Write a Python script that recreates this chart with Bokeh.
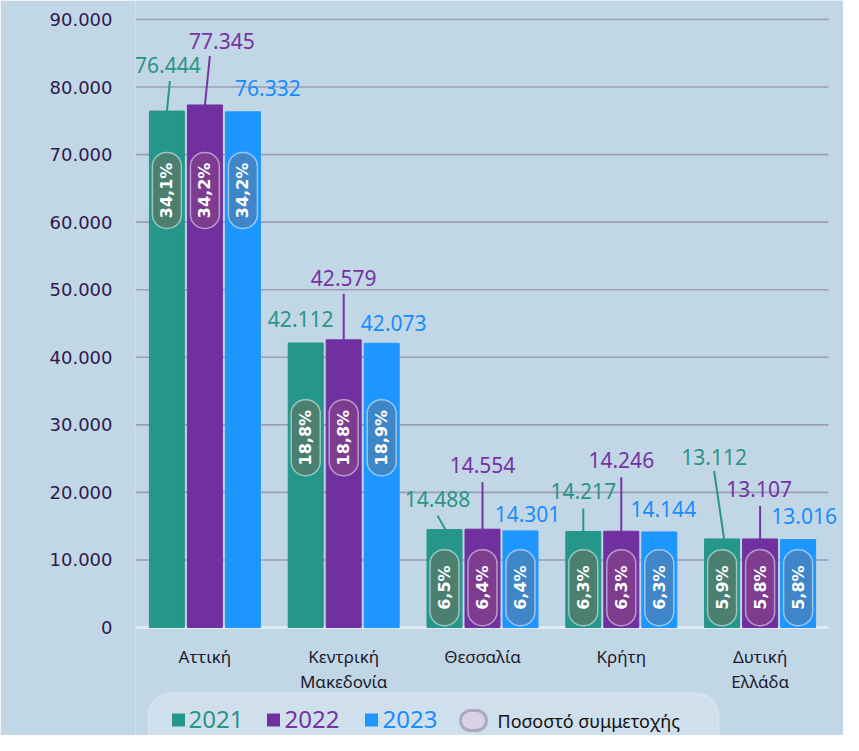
import math
from bokeh.plotting import figure
from bokeh.models import Range1d, FixedTicker, Label, BoxAnnotation
from bokeh.core.properties import value
from bokeh.embed import file_html
from bokeh.resources import INLINE

# ---------------- data ----------------
regions = ["Αττική", "Κεντρική\nΜακεδονία", "Θεσσαλία", "Κρήτη", "Δυτική\nΕλλάδα"]
years = ["2021", "2022", "2023"]
values_2021 = [76444, 42112, 14488, 14217, 13112]
values_2022 = [77345, 42579, 14554, 14246, 13107]
values_2023 = [76332, 42073, 14301, 14144, 13016]
share_2021 = ["34,1%", "18,8%", "6,5%", "6,3%", "5,9%"]
share_2022 = ["34,2%", "18,8%", "6,4%", "6,3%", "5,8%"]
share_2023 = ["34,2%", "18,9%", "6,4%", "6,3%", "5,8%"]
y_ticks = [0, 10000, 20000, 30000, 40000, 50000, 60000, 70000, 80000, 90000]
y_tick_labels = ["0", "10.000", "20.000", "30.000", "40.000", "50.000",
                 "60.000", "70.000", "80.000", "90.000"]
legend_extra = "Ποσοστό συμμετοχής"

series_values = {"2021": values_2021, "2022": values_2022, "2023": values_2023}
series_share = {"2021": share_2021, "2022": share_2022, "2023": share_2023}

# ---------------- layout / style ----------------
FONT = "Noto Sans"
NUM_FONT = "Noto Sans"
W, H = 843, 735
BL, BR = 135, 0
FW = W - BL - BR
PX_PER_10K = 67.556
U_PX = 10000.0 / PX_PER_10K            # data units per px
ZERO_Y = 627                            # px from top where 0 lies
Y_START = -(H - ZERO_Y) * U_PX
Y_END = ZERO_Y * U_PX
PX_CAT = 138.8                          # px per category
X_START = -0.5
X_END = X_START + FW / PX_CAT
GRID_RIGHT_PX = 828                     # gridlines end (px from left)
BG = "#c2d7e6"

bar_color = {"2021": "#24968a", "2022": "#7030a0", "2023": "#1e96ff"}
txt_color = {"2021": "#2a9585", "2022": "#7533a3", "2023": "#1a8cff"}
pill_color = {"2021": "#4b8071", "2022": "#7d3c8e", "2023": "#3f86c8"}
bar_off_px = {"2021": -38, "2022": 0, "2023": 38}
BAR_W_PX = 35
label_dx = {"2021": [1, -5, -7, 0, -8], "2022": [17, 0, 0, 0, -1], "2023": [25, 12, 7, 4, 6]}
label_dy = {"2021": [46, 24, 31, 40, 82], "2022": [64, 62, 64, 71, 50], "2023": [24, 20, 17, 23, 24]}
leaders = {
    "2021": [(0, 3, 30), None, (1, -7, 14), (0, 0, 23), (2, -8, 68)],
    "2022": [(0, 5, 49), (0, 0, 46), (0, 0, 47), (0, 0, 54), (0, 0, 33)],
    "2023": [None, None, None, None, None],
}
pill_center = [64700, 28100, 5900, 5900, 5900]
CAT_LABEL_GAP_PX = 17
LEG_SHIFT = 18

p = figure(width=W, height=H, output_backend="svg", toolbar_location=None,
           x_range=Range1d(X_START, X_END), y_range=Range1d(Y_START, Y_END),
           x_axis_location=None,
           min_border_left=BL, min_border_right=BR, min_border_top=0,
           min_border_bottom=0)
p.background_fill_color = BG
p.border_fill_color = BG
p.outline_line_color = None

# y axis
p.yaxis.ticker = FixedTicker(ticks=y_ticks)
p.yaxis.major_label_overrides = {t: l for t, l in zip(y_ticks, y_tick_labels)}
p.yaxis.axis_line_color = None
p.yaxis.major_tick_line_color = None
p.yaxis.minor_tick_line_color = None
p.yaxis.major_tick_out = 0
p.yaxis.major_tick_in = 0
p.yaxis.minor_tick_out = 0
p.yaxis.major_label_standoff = 23
p.yaxis.major_label_text_font = "DejaVu Sans"
p.yaxis.major_label_text_font_size = "18px"
p.yaxis.major_label_text_color = "#2e1a4f"
p.yaxis.axis_label = "."
p.yaxis.axis_label_text_alpha = 0
p.yaxis.axis_label_text_font_size = "2px"
p.yaxis.axis_label_standoff = 10

p.xgrid.grid_line_color = None
p.ygrid.grid_line_color = None

# horizontal gridlines at the y ticks, ending where the reference ends them
grid_x1 = X_START + (GRID_RIGHT_PX - BL) / PX_CAT
p.segment(x0=[X_START] * (len(y_ticks) - 1), x1=[grid_x1] * (len(y_ticks) - 1),
          y0=y_ticks[1:], y1=y_ticks[1:], line_color="#9c9db9", line_width=1.6)
p.segment(x0=[X_START], x1=[grid_x1], y0=y_ticks[:1], y1=y_ticks[:1],
          line_color="#e3ebf2", line_width=3)

idx = list(range(len(regions)))
# category labels
p.text(x=idx, y=[-CAT_LABEL_GAP_PX * U_PX] * len(idx), text=regions,
       text_align="center", text_baseline="top", text_color="#1c1a2e",
       text_font=value(FONT), text_font_size="17px", text_line_height=1.1)

for yr in years:
    vals = series_values[yr]
    xs = [i + bar_off_px[yr] / PX_CAT for i in idx]
    p.vbar(x=xs, top=vals, bottom=0, width=BAR_W_PX / PX_CAT, fill_color=bar_color[yr],
           line_color=bar_color[yr], line_width=1)

    p.rect(x=xs, y=pill_center, width=29, height=76, width_units="screen",
           height_units="screen", fill_color=pill_color[yr], line_color="#ffffff",
           line_alpha=0.5, line_width=1.5, border_radius=14)
    p.text(x=xs, y=pill_center, text=series_share[yr], angle=math.pi / 2,
           text_align="center", text_baseline="middle", text_color="white",
           text_font=value("DejaVu Sans"), text_font_style="bold", text_font_size="16px")

    lx = [x + dx / PX_CAT for x, dx in zip(xs, label_dx[yr])]
    ly = [v + dy * U_PX for v, dy in zip(vals, label_dy[yr])]
    labels = [f"{v:,}".replace(",", ".") for v in vals]
    p.text(x=lx, y=ly, text=labels, text_align="center", text_baseline="middle",
           text_color=txt_color[yr], text_font=value(NUM_FONT), text_font_size="21px")

    x0, y0, x1, y1 = [], [], [], []
    for x, v, ld in zip(xs, vals, leaders[yr]):
        if ld is None:
            continue
        a, b, ln = ld
        x0.append(x + a / PX_CAT)
        y0.append(v)
        x1.append(x + b / PX_CAT)
        y1.append(v + ln * U_PX)
    if x0:
        p.segment(x0=x0, y0=y0, x1=x1, y1=y1, line_color=txt_color[yr], line_width=2)

# ---------------- legend (screen coords relative to frame) ----------------
def sx(px):
    return px - BL

def sy(py):
    return H - (py - LEG_SHIFT)

def box(l, r, t, b, **kw):
    return BoxAnnotation(left=sx(l), right=sx(r), top=sy(t), bottom=sy(b),
                         left_units="screen", right_units="screen",
                         top_units="screen", bottom_units="screen", **kw)

p.add_layout(box(148, 718, 711, 790, fill_color="#ffffff", fill_alpha=0.22,
                 line_color="#e9f1f7", line_width=2.5, border_radius=22))

leg_pos = {"2021": (178, 188), "2022": (273, 284), "2023": (371, 382)}
for yr in years:
    cx, tx = leg_pos[yr]
    p.add_layout(box(cx - 6.5, cx + 6.5, 731, 744, fill_color=bar_color[yr],
                     fill_alpha=1, line_color=None))
    p.add_layout(Label(x=sx(tx), y=sy(737), x_units="screen", y_units="screen",
                       text=yr, text_color=txt_color[yr], text_font=NUM_FONT,
                       text_font_size="24px", text_baseline="middle", text_align="left"))

p.add_layout(box(460, 486, 728, 748, fill_color="#d9d2e6", fill_alpha=1,
                 line_color="#4d3d60", line_width=3, border_radius=10))
p.add_layout(Label(x=sx(497), y=sy(738), x_units="screen", y_units="screen",
                   text=legend_extra, text_color="#111111", text_font=FONT,
                   text_font_size="18px", text_baseline="middle", text_align="left"))

open("out.html", "w").write(file_html(p, INLINE))
